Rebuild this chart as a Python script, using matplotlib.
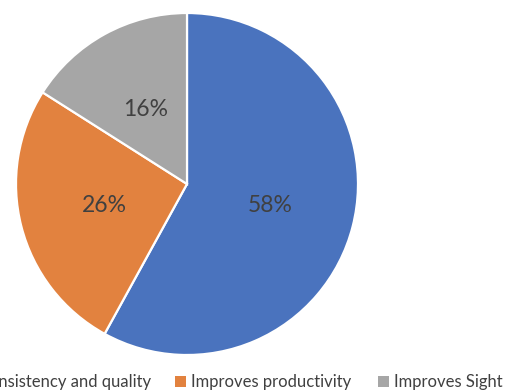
import matplotlib.pyplot as plt
from matplotlib.patches import Patch

labels = ['Improves consistency and quality', 'Improves productivity', 'Improves Sight']
values = [58, 26, 16]
colors = ['#4A73BE', '#E2823F', '#A6A6A6']

plt.rcParams['font.family'] = ['Lato', 'DejaVu Sans']

W, H = 515, 390
fig = plt.figure(figsize=(W / 100, H / 100), dpi=100)

# pie centre and radius in pixels
cx, cy, r = 187, 184, 171
ax = fig.add_axes([(cx - r) / W, (H - cy - r) / H, 2 * r / W, 2 * r / H])

wedges, texts, autotexts = ax.pie(
    values, colors=colors, startangle=90, counterclock=False,
    autopct='%1.0f%%', pctdistance=0.5,
    wedgeprops=dict(edgecolor='white', linewidth=1.6),
    textprops=dict(color='#404040', fontsize=16.5))
ax.set_xlim(-1, 1)
ax.set_ylim(-1, 1)

# one legend per entry so the gaps follow the reference
leg_y = 1 - 382 / H
anchors = [(151, 'center right'), (175, 'center left'), (378, 'center left')]
for lab, col, (px, loc) in zip(labels, colors, anchors):
    leg = fig.legend([Patch(facecolor=col, edgecolor='none')], [lab],
                     loc=loc, bbox_to_anchor=(px / W, leg_y), frameon=False,
                     fontsize=12, labelcolor='#404040',
                     handlelength=0.65, handleheight=0.65, handletextpad=0.3,
                     borderpad=0, borderaxespad=0)

fig.savefig('out.png', dpi=100)
